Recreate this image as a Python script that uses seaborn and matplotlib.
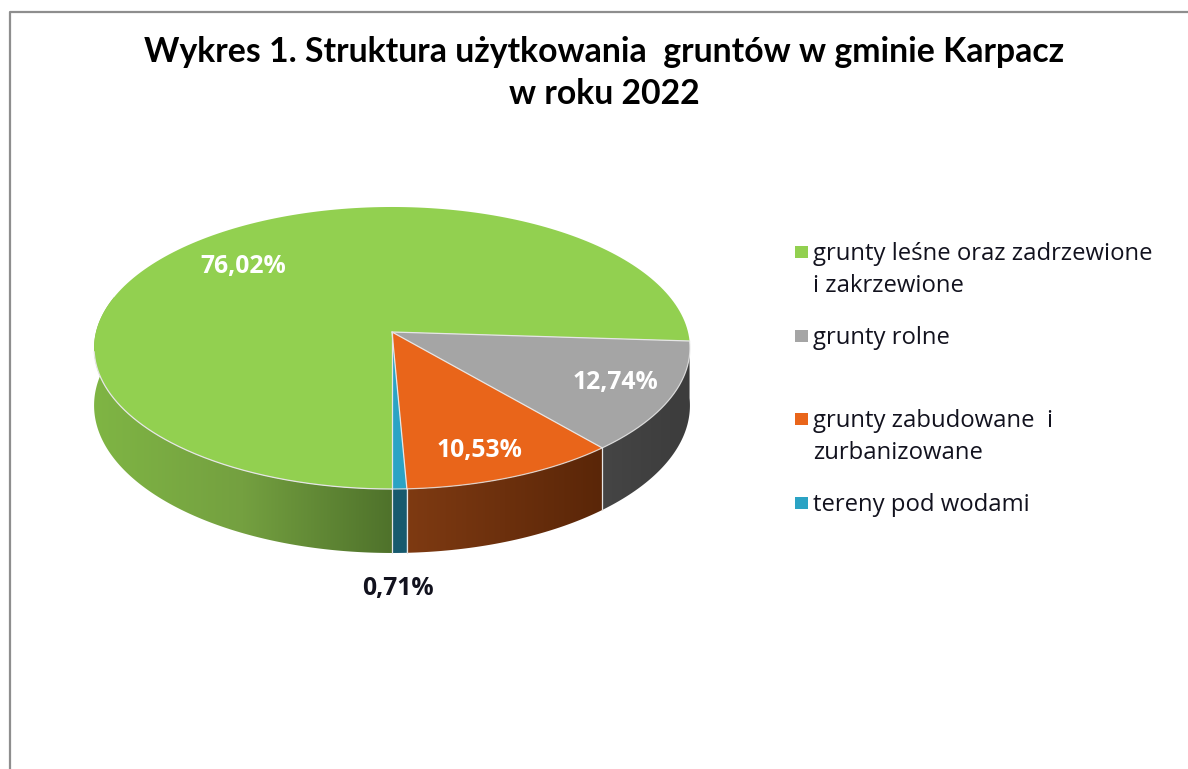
import numpy as np
import matplotlib
matplotlib.use("Agg")
import matplotlib.pyplot as plt
from matplotlib.patches import Polygon
import pandas as pd
import seaborn as sns

# data
categories = ["grunty leśne oraz zadrzewione\ni zakrzewione", "grunty rolne",
              "grunty zabudowane  i\nzurbanizowane", "tereny pod wodami"]
shares = [76.02, 12.74, 10.53, 0.71]
share_labels = ["76,02%", "12,74%", "10,53%", "0,71%"]
title = "Wykres 1. Struktura użytkowania  gruntów w gminie Karpacz\nw roku 2022"

top_colors = ["#92d050", "#a5a5a5", "#e9651a", "#2ba3c4"]
side_colors = [["#7fb544", "#74a040", "#4f722b"], ["#454545", "#3c3c3c"],
               ["#7e3a12", "#5a2608"], ["#175a6e", "#175a6e"]]
label_colors = ["white", "white", "white", "#12121e"]
label_xy = [(243, 267), (615, 382), (480, 451), (398, 588)]
legend_y = [252, 336, 419, 503]
text_y = [270, 338, 437, 505]

sns.set_style("white")
plt.rcParams["font.family"] = ["Open Sans", "DejaVu Sans"]

# pie geometry, in pixels of the picture
cx, cy = 392, 332
rx, ry = 296, 139.2
tilt = 0.1135
depth = 56.7


def rim(theta, drop=0.0):
    # point on the tilted disc, theta clockwise from the top, in degrees
    t = np.radians(theta)
    v = -np.cos(t)
    w = 1 - tilt * v
    return cx + rx * np.sin(t) / w, cy + ry * v / w + drop * depth / w


def rim_poly(a, b, drop=0.0):
    x, y = rim(np.linspace(a, b, 200), drop)
    return np.column_stack([x, y])


fig, ax = plt.subplots(figsize=(11.88, 7.69), dpi=100)
ax.set_position([0, 0, 1, 1])
ax.axis("off")

# chart frame, runs off the picture to the right and below
ax.plot([9.5, 9.5, 1188], [769, 11.5, 11.5], color="#8e8e8e", lw=1.6, zorder=1)

# slice angles, clockwise starting at the bottom of the pie
edges = 180 + np.cumsum([0] + shares) * 3.6
edge_color = "#e6e6e6"

for i, name in enumerate(categories):
    a, b = edges[i], edges[i + 1]
    # side wall, for green only the front left part of the rim shows
    p0, p1 = (180, 285) if i == 0 else (a, b)
    wall = np.vstack([rim_poly(p0, p1), rim_poly(p1, p0, 1.0)])
    poly = Polygon(wall, closed=True, fc="none", ec="none")
    ax.add_patch(poly)
    cmap = sns.blend_palette(side_colors[i], as_cmap=True)
    im = ax.imshow(np.linspace(0, 1, 256).reshape(1, -1), cmap=cmap, aspect="auto",
                   extent=[wall[:, 0].min(), wall[:, 0].max(), wall[:, 1].max(), wall[:, 1].min()],
                   zorder=2, interpolation="bilinear")
    im.set_clip_path(poly)

    # top face
    outline = np.vstack([[cx, cy], rim_poly(a, b)])
    ax.add_patch(Polygon(outline, closed=True, fc=top_colors[i], ec="none", zorder=3))
    if i > 0:
        ax.plot(*rim_poly(a, b).T, color=edge_color, lw=0.9, alpha=0.8, zorder=4)

# front of the green rim gets its light line too
ax.plot(*rim_poly(180, 262).T, color=edge_color, lw=0.9, zorder=4)

# slice borders on the top face and down the wall
for e in edges[1:]:
    ex, ey = rim(e)
    ax.plot([cx, ex], [cy, ey], color=edge_color, lw=0.9, zorder=4)
    if (e % 360) > 100:
        bx, by = rim(e, 1.0)
        ax.plot([ex, bx], [ey, by], color=edge_color, lw=0.9, zorder=4)

for lab, (lx, ly), col in zip(share_labels, label_xy, label_colors):
    ax.text(lx, ly, lab, color=col, fontsize=17.8, fontweight="bold", ha="center", va="center", zorder=5)

# legend
legend_df = pd.DataFrame({"x": [801.5] * 4, "y": legend_y, "name": categories})
sns.scatterplot(data=legend_df, x="x", y="y", hue="name", palette=top_colors, marker="s",
                s=85, linewidth=0, legend=False, ax=ax, zorder=5)
ax.set_xlabel("")
ax.set_ylabel("")
for name, ty in zip(categories, text_y):
    ax.text(813, ty, name, color="#12121e", fontsize=17.2, ha="left", va="center",
            linespacing=1.49, zorder=5)

ax.text(604, 73, title, color="black", fontsize=24.3, fontweight="bold", ha="center", va="center",
        linespacing=1.37, family=["Lato", "DejaVu Sans"], zorder=5)

ax.set_xlim(0, 1188)
ax.set_ylim(769, 0)

fig.savefig("out.png", dpi=100, facecolor="white")
